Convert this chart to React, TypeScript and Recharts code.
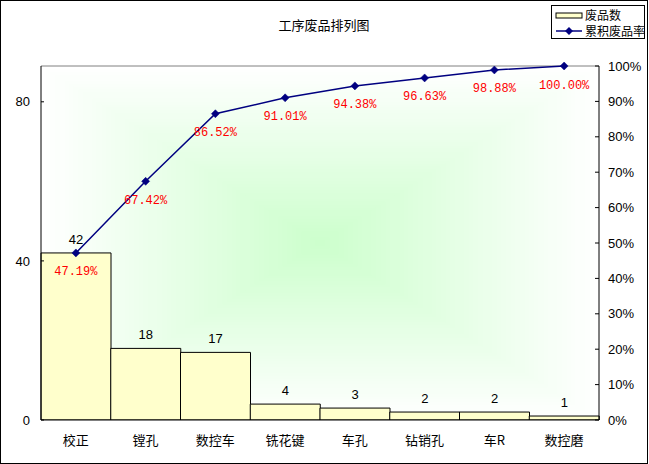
import React from 'react';
import {
  ComposedChart, Bar, Line, XAxis, YAxis, LabelList, ReferenceLine, Legend,
} from 'recharts';

const categories = ['校正', '镗孔', '数控车', '铣花键', '车孔', '钻销孔', '车R', '数控磨'];
const defects = [42, 18, 17, 4, 3, 2, 2, 1];
const cumPercent = [47.19, 67.42, 86.52, 91.01, 94.38, 96.63, 98.88, 100.0];
const leftTicks = [0, 40, 80];
const rightTicks = [0, 10, 20, 30, 40, 50, 60, 70, 80, 90, 100];
const LEFT_MAX = 89;
const TITLE = '工序废品排列图';
const BAR_NAME = '废品数';
const LINE_NAME = '累积废品率';

const data = categories.map((name, i) => ({ name, count: defects[i], cum: cumPercent[i] }));

const W = 648;
const H = 464;
const LEFT_W = 41;
const RIGHT_W = 49;
const TOP = 66;
const XAXIS_H = 44;
const PLOT = { x: LEFT_W, y: TOP, w: W - LEFT_W - RIGHT_W, h: H - TOP - XAXIS_H };

const NUM_FONT = '"Liberation Sans", Arial, sans-serif';
const CJK_FONT = '"Noto Sans CJK SC", "Liberation Sans", sans-serif';
const MONO_FONT = '"Liberation Mono", "DejaVu Sans Mono", monospace';

function Background() {
  const steps = 60;
  const rects = [];
  const cx = PLOT.x + PLOT.w / 2;
  const cy = PLOT.y + PLOT.h / 2;
  for (let k = 0; k < steps; k++) {
    const t = 1 - k / steps; // 1 at edge, ->0 at center
    const hw = (PLOT.w / 2) * t;
    const hh = (PLOT.h / 2) * t;
    const mix = (c: number) => Math.round(c + (255 - c) * t);
    const col = `rgb(${mix(0xcc)},255,${mix(0xcc)})`;
    rects.push(<rect key={k} x={cx - hw} y={cy - hh} width={hw * 2} height={hh * 2} fill={col} />);
  }
  return (
    <svg width={W} height={H} style={{ position: 'absolute', left: 0, top: 0 }}>
      <rect x={0} y={0} width={W} height={H} fill="#fff" />
      {rects}
    </svg>
  );
}

const Diamond = (props: any) => {
  const { cx, cy, index } = props;
  if (cx == null || cy == null) return <g key={index} />;
  const r = 4;
  return (
    <path
      key={index}
      d={`M${cx},${cy - r}L${cx + r},${cy}L${cx},${cy + r}L${cx - r},${cy}Z`}
      fill="#000080"
      stroke="#000080"
      strokeWidth={0.5}
    />
  );
};

const LegendContent = () => (
  <div
    style={{
      width: 94,
      height: 34,
      border: '1px solid #000',
      background: '#fff',
      boxSizing: 'border-box',
      fontFamily: CJK_FONT,
      fontSize: 12,
      color: '#000',
      position: 'relative',
    }}
  >
    <svg width={94} height={34} style={{ position: 'absolute', left: 0, top: 0 }}>
      <rect x={4} y={7} width={26} height={5} fill="#FFFFCC" stroke="#000" strokeWidth={1} />
      <line x1={4} x2={30} y1={25} y2={25} stroke="#000080" strokeWidth={1.5} />
      <path d="M17,21L21,25L17,29L13,25Z" fill="#000080" />
      <text x={33} y={14} fontFamily={CJK_FONT} fontSize={12} fill="#000">{BAR_NAME}</text>
      <text x={33} y={30} fontFamily={CJK_FONT} fontSize={12} fill="#000">{LINE_NAME}</text>
    </svg>
  </div>
);

export default function App() {
  return (
    <div style={{ position: 'absolute', left: 0, top: 0, width: W, height: H, overflow: 'hidden' }}>
      <Background />
      <div
        style={{
          position: 'absolute',
          left: 0,
          top: 0,
          width: W,
          height: H,
          border: '1px solid #000',
          boxSizing: 'border-box',
        }}
      />
      <div
        style={{
          position: 'absolute',
          left: 0,
          top: 16,
          width: W,
          textAlign: 'center',
          fontFamily: CJK_FONT,
          fontSize: 13,
          lineHeight: '18px',
          color: '#000',
        }}
      >
        {TITLE}
      </div>
      <div style={{ position: 'absolute', left: 0, top: 0 }}>
        <ComposedChart
          width={W}
          height={H}
          data={data}
          margin={{ top: TOP, right: 0, bottom: 0, left: 0 }}
          barCategoryGap={0}
          barGap={0}
        >
          <XAxis
            dataKey="name"
            height={XAXIS_H}
            tickLine={false}
            axisLine={{ stroke: '#000', strokeWidth: 1 }}
            tick={{ fill: '#000', fontSize: 13, fontFamily: CJK_FONT }}
            tickMargin={10}
            interval={0}
          />
          <YAxis
            yAxisId="left"
            orientation="left"
            width={LEFT_W}
            domain={[0, LEFT_MAX]}
            ticks={leftTicks}
            allowDataOverflow
            tickSize={-3}
            tickMargin={14}
            axisLine={{ stroke: '#000', strokeWidth: 1 }}
            tickLine={{ stroke: '#000' }}
            tick={{ fill: '#000', fontSize: 13, fontFamily: NUM_FONT }}
          />
          <YAxis
            yAxisId="right"
            orientation="right"
            width={RIGHT_W}
            domain={[0, 100]}
            ticks={rightTicks}
            tickSize={-4}
            tickMargin={13}
            tickFormatter={(v: number) => `${v}%`}
            axisLine={{ stroke: '#000', strokeWidth: 1 }}
            tickLine={{ stroke: '#000' }}
            tick={{ fill: '#000', fontSize: 13, fontFamily: NUM_FONT }}
            interval={0}
          />
          <ReferenceLine yAxisId="left" y={LEFT_MAX} stroke="#808080" strokeWidth={1} />
          <Legend
            layout="vertical"
            align="center"
            verticalAlign="middle"
            content={LegendContent}
            wrapperStyle={{ position: 'absolute', left: 551, top: 5, width: 94, height: 34 }}
          />
          <Bar
            yAxisId="left"
            dataKey="count"
            name={BAR_NAME}
            fill="#FFFFCC"
            stroke="#000"
            strokeWidth={1}
            isAnimationActive={false}
          >
            <LabelList
              dataKey="count"
              position="top"
              offset={9}
              fill="#000"
              fontSize={13}
              fontFamily={NUM_FONT}
            />
          </Bar>
          <Line
            yAxisId="right"
            dataKey="cum"
            name={LINE_NAME}
            stroke="#000080"
            strokeWidth={1.5}
            dot={Diamond}
            activeDot={false}
            isAnimationActive={false}
          >
            <LabelList
              dataKey="cum"
              position="bottom"
              offset={14}
              fill="#FF0000"
              fontSize={12}
              fontFamily={MONO_FONT}
              formatter={(v: any) => `${Number(v).toFixed(2)}%`}
            />
          </Line>
        </ComposedChart>
      </div>
    </div>
  );
}
